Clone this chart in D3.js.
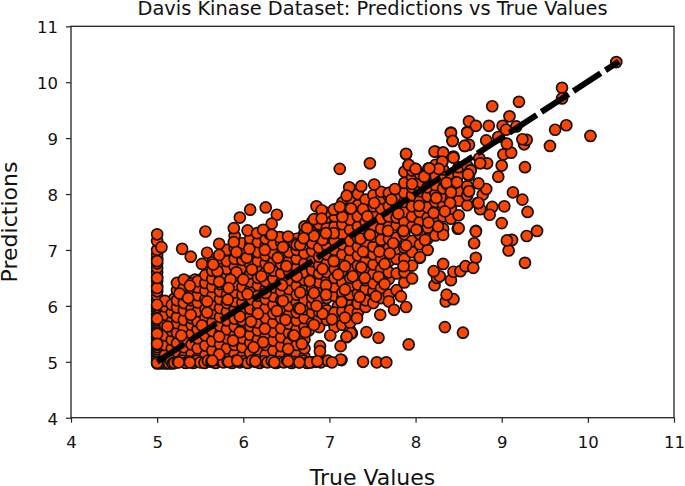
<!DOCTYPE html>
<html><head><meta charset="utf-8">
<script src="https://d3js.org/d3.v7.min.js"></script>
<style>html,body{margin:0;padding:0;background:#fff}svg{display:block}text{font-family:"DejaVu Sans";fill:#111}</style>
</head><body><div id="chart"></div>
<script>
const chartTitle = "Davis Kinase Dataset: Predictions vs True Values";
const xLabel = "True Values";
const yLabel = "Predictions";
const tickValues = [4,5,6,7,8,9,10,11];
const lineTrue = [5,10.36];
const linePred = [5,10.37];

// Buried cloud, one row per approximate true value: [true, predictions...]
const cloudColumns = [
[5.09,5.12,5.3,5.47,5.66,5.84,5.99,6.09],
[5.17,5.07,5.24,5.39,5.55,5.72,5.88,6.02],
[5.23,5.15,5.33,5.52,5.69,5.8,5.97,6.1,6.28,6.41],
[5.31,5.09,5.26,5.41,5.6,5.75,5.92,6.05,6.2,6.33,6.47],
[5.4,5.14,5.31,5.5,5.66,5.78,5.95,6.1,6.25,6.4],
[5.47,5.07,5.24,5.42,5.58,5.72,5.9,6.06,6.19,6.33,6.44],
[5.56,5.12,5.29,5.47,5.62,5.79,5.94,6.12,6.27,6.41,6.55],
[5.64,5.08,5.2,5.37,5.55,5.7,5.87,6.02,6.18,6.34,6.48,6.63,6.78],
[5.73,5.16,5.31,5.5,5.64,5.8,5.96,6.12,6.26,6.39,6.54,6.72,6.85],
[5.81,5.09,5.24,5.42,5.58,5.74,5.9,6.05,6.2,6.36,6.52,6.66,6.8,7.0],
[5.9,5.14,5.3,5.47,5.63,5.77,5.93,6.08,6.24,6.38,6.54,6.7,6.84,7.03,7.25],
[5.99,5.1,5.26,5.42,5.6,5.74,5.9,6.06,6.2,6.34,6.52,6.68,6.82,6.94,7.12],
[6.08,5.16,5.34,5.48,5.64,5.8,5.95,6.12,6.28,6.43,6.58,6.74,6.9,7.1,7.2],
[6.17,5.08,5.22,5.4,5.56,5.7,5.92,6.04,6.18,6.37,6.5,6.66,6.8,6.96,7.14],
[6.26,5.13,5.3,5.46,5.62,5.78,5.96,6.12,6.3,6.44,6.6,6.76,6.9,7.08,7.2],
[6.35,5.06,5.2,5.38,5.54,5.7,5.86,6.02,6.17,6.33,6.48,6.63,6.79,6.94,7.1],
[6.44,5.12,5.28,5.44,5.6,5.78,5.94,6.1,6.26,6.42,6.58,6.75,6.92,7.14,7.22],
[6.53,5.08,5.35,5.52,5.68,5.84,6.0,6.16,6.3,6.46,6.62,6.8,6.96,7.16],
[6.62,5.14,5.3,5.58,5.74,5.88,6.06,6.2,6.36,6.52,6.68,6.84,7.0,7.2],
[6.71,5.09,5.24,5.4,5.62,5.78,5.94,6.1,6.3,6.46,6.6,6.76,6.94,7.1,7.3,7.42],
[6.8,5.7,5.88,6.03,6.15,6.3,6.5,6.64,6.8,6.98,7.12,7.35,7.5],
[6.88,5.62,5.78,5.9,6.12,6.28,6.42,6.58,6.72,6.88,7.04,7.24,7.46],
[6.97,5.75,5.92,6.14,6.3,6.46,6.6,6.76,6.92,7.08,7.22,7.4,7.58],
[7.06,5.62,5.88,6.18,6.34,6.5,6.66,6.84,7.0,7.16,7.42,7.6,7.72],
[7.15,5.66,5.9,6.14,6.24,6.42,6.6,6.76,6.92,7.1,7.28,7.46,7.66,7.85],
[7.24,5.56,5.7,5.92,6.2,6.36,6.5,6.68,6.84,7.0,7.16,7.36,7.54,7.76,7.92],
[7.33,5.88,6.04,6.22,6.38,6.56,6.72,6.9,7.06,7.22,7.42,7.6,7.8,8.0],
[7.42,5.98,6.1,6.3,6.46,6.62,6.8,6.96,7.12,7.3,7.5,7.68,7.9],
[7.51,6.05,6.26,6.4,6.58,6.74,6.92,7.06,7.24,7.44,7.62,7.78,7.98],
[7.6,6.14,6.32,6.5,6.66,6.84,7.02,7.18,7.38,7.56,7.74,7.92,8.04],
[7.69,6.2,6.48,6.6,6.8,7.04,7.2,7.42,7.6,7.78,7.96,8.02],
[7.78,6.28,6.58,6.84,7.02,7.22,7.44,7.58,7.76,7.94],
[7.87,6.42,6.6,6.84,7.04,7.28,7.5,7.68,7.86,8.02,8.2,8.4],
[7.96,6.72,6.96,7.16,7.42,7.6,7.78,7.98,8.12,8.3,8.42],
[8.05,6.86,7.1,7.28,7.5,7.68,7.88,8.05,8.22,8.36],
[8.14,7.0,7.2,7.4,7.58,7.76,7.96,8.12,8.28,8.4],
[8.23,7.26,7.52,7.7,7.86,8.0,8.16,8.32,8.52],
[8.32,7.38,7.6,7.82,7.96,8.1,8.26,8.44],
[8.41,7.56,7.74,7.92,8.12,8.3],
[8.5,7.62,7.88,8.06,8.34,8.48],
[8.6,7.8,7.98,8.14,8.5]
];

// Second buried layer, filling between the rows above
const fillerColumns = [
[5.13,5.2,5.37,5.56,5.75,5.93],
[5.2,5.16,5.32,5.47,5.63,5.8,5.95,6.13],
[5.27,5.05,5.22,5.42,5.6,5.77,5.9,6.04,6.18,6.37],
[5.35,5.18,5.34,5.54,5.68,5.86,6.0,6.14,6.28,6.44],
[5.44,5.06,5.22,5.39,5.6,5.84,6.02,6.17,6.31,6.47],
[5.52,5.17,5.36,5.54,5.7,5.87,6.0,6.15,6.3,6.48],
[5.6,5.06,5.22,5.41,5.58,5.76,5.9,6.07,6.22,6.38,6.52],
[5.68,5.13,5.28,5.46,5.6,5.78,5.92,6.08,6.25,6.41,6.58],
[5.77,5.06,5.23,5.39,5.57,5.72,5.86,6.03,6.18,6.33,6.46,6.6,6.78],
[5.86,5.18,5.35,5.52,5.68,5.84,6.0,6.14,6.28,6.45,6.6,6.76,6.92],
[5.95,5.05,5.22,5.37,5.55,5.7,5.85,6.01,6.15,6.3,6.46,6.62,6.77,6.9,7.06],
[6.04,5.13,5.3,5.46,5.66,5.84,6.0,6.16,6.33,6.5,6.64,6.79,6.98],
[6.13,5.05,5.2,5.38,5.56,5.72,5.87,6.08,6.24,6.4,6.55,6.7,6.84,7.02],
[6.22,5.16,5.33,5.5,5.68,5.86,6.02,6.15,6.37,6.48,6.68,6.84,7.02],
[6.31,5.07,5.24,5.42,5.58,5.74,5.92,6.07,6.24,6.4,6.56,6.72,6.86,7.04],
[6.4,5.14,5.31,5.48,5.66,5.82,5.98,6.14,6.3,6.52,6.68,6.84,7.02],
[6.49,5.1,5.26,5.4,5.56,5.72,5.9,6.04,6.2,6.36,6.52,6.66,6.84,7.06],
[6.58,5.18,5.36,5.54,5.68,5.96,6.12,6.27,6.44,6.6,6.76,6.92,7.1],
[6.67,5.08,5.2,5.46,5.68,5.84,6.02,6.16,6.24,6.4,6.56,6.72,6.88,7.06,7.22],
[6.76,5.56,5.72,5.9,6.0,6.2,6.38,6.54,6.7,6.86,7.02,7.2],
[6.84,5.82,5.96,6.08,6.22,6.36,6.56,6.76,6.96,7.08,7.3],
[6.93,6.0,6.2,6.36,6.54,6.7,6.84,7.0,7.16,7.32,7.5],
[7.02,5.82,6.24,6.42,6.58,6.72,6.92,7.08,7.28,7.5],
[7.1,5.78,6.0,6.3,6.48,6.66,6.84,7.02,7.2,7.36,7.54],
[7.2,5.88,6.06,6.3,6.46,6.66,6.82,7.0,7.18,7.44,7.6],
[7.29,5.8,5.96,6.3,6.44,6.62,6.78,6.96,7.1,7.3,7.5,7.68,7.85],
[7.38,6.08,6.3,6.46,6.64,6.84,7.0,7.18,7.36,7.54,7.72],
[7.47,6.2,6.38,6.54,6.7,6.88,7.04,7.2,7.38,7.56,7.74,7.9],
[7.56,6.3,6.46,6.62,6.8,6.98,7.14,7.32,7.5,7.68,7.86]
];

// Points pinned to the floor of the predictions (about 5)
const floorTrue = [5.03,5.05,5.07,5.1,5.12,5.14,5.16,5.18,5.2,5.24,5.29,5.33,5.37,5.42,5.46,5.5,5.55,5.59,5.63,5.68,5.73,5.77,5.82,5.87,5.91,5.96,6.0,6.05,6.1,6.14,6.19,6.24,6.28,6.33,6.38,6.42,6.47,6.51,6.56,6.6,6.65,6.7,6.74,6.79,6.84,6.9,6.98];
const floorPred = [4.98,4.97,5.01,4.97,4.98,4.97,5.02,4.97,4.98,5.0,5.02,4.98,5.01,4.98,5.02,4.99,4.98,5.02,5.0,4.98,5.02,4.99,5.0,4.98,5.02,4.99,5.01,4.98,5.02,5.0,4.98,5.01,4.99,5.02,4.98,5.0,4.99,5.02,4.98,5.0,4.99,5.02,4.98,4.99,5.0,4.99,5.02];

// Points pinned to the lowest true value (about 5)
const wallTrue = [5,5,5,5,5,5,5,5,5,5,5,5,5,5,5,5,5,5,5,5,5,5,5,5,5,5,5,5,5,5,5,5,5,5,5,5,5,5,5,5];
const wallPred = [4.97,5.02,5.06,5.1,5.14,5.18,5.22,5.26,5.3,5.34,5.38,5.42,5.45,5.5,5.54,5.58,5.62,5.66,5.7,5.74,5.78,5.82,5.86,5.9,5.94,5.98,6.02,6.1,6.18,6.26,6.36,6.44,6.52,6.6,6.68,6.76,6.84,6.92,7.0,7.16];

// Sparse points at the edge of the cloud
const edgeTrue = [7.26,7.2,7.13,7.25,7.43,7.57,7.14,7.39,7.55,7.66,7.92,8.34,8.55,8.35,8.44,8.36,8.22,8.41,8.25,8.28,8.21,8.32,8.44,8.52,8.58,8.7,8.67,9.27,9.08,9.12,9.06,9.29,9.41,8.68,8.7,8.49,9.0,9.03,8.89,8.86,8.75,8.72,8.78,8.82,8.73,8.62,9.3,9.24,9.13,8.96,9.27,9.0,9.02,9.11,9.06,9.26,9.29,9.24,8.96,8.82,8.62,8.57,8.43,8.41,8.6,8.62,8.7,8.85,9.01,9.05,9.17,9.09,8.89,9.2,9.56,9.62,9.75,10.03,9.7,9.7,10.33,8.23,8.32,8.44,8.31,8.74,8.83,8.75,8.64,8.62,8.15,8.27,8.0,8.11,8.36,8.47,8.41,7.89,7.92];
const edgePred = [5.51,5.44,5.28,5.51,5.53,5.43,5.03,5.0,4.99,4.99,5.31,5.62,5.52,6.08,6.12,6.2,6.37,6.46,6.5,6.53,6.62,6.75,6.61,6.62,6.71,6.86,6.68,6.77,6.99,7.18,7.17,7.25,7.34,7.12,7.34,7.38,7.48,7.78,7.77,7.63,7.73,7.84,7.99,8.09,8.19,8.05,7.68,7.9,8.03,8.31,8.48,8.51,8.71,8.74,8.9,8.89,8.97,8.98,9.02,8.96,8.88,8.86,8.95,9.1,9.11,9.3,9.22,9.22,9.22,9.15,9.21,9.39,9.57,9.65,8.86,9.15,9.23,9.04,9.9,9.71,10.36,8.76,8.74,8.67,8.58,8.64,8.55,8.55,8.43,8.33,8.46,8.45,8.45,8.3,8.18,8.21,8.04,8.71,8.52];

// Top layer of the cloud, read circle by circle
const topTrue = [5.56,5.89,6.05,6.16,6.31,6.42,6.59,5,5.05,5.29,5.39,5.58,5.72,5.72,5.89,5.92,6.04,6.07,6.25,6.46,6.4,6.62,5.52,5.7,5.65,5.92,6.1,6.3,6.5,6.21,6,5.85,5.38,5.26,5.36,5.58,5.82,6.05,5.83,5.72,6.45,6.26,6.46,6.62,6.64,6.39,6.17,5.96,5.39,5.58,6.09,6.49,6.25,5.96,5.52,5.28,5.12,5.72,5,5,5,5,5,5,5,5.88,6.23,6.58,6.12,6.52,5.72,5.38,5.25,5.83,5.64,5.93,6.14,6.36,6.52,5,
6.82,6.66,6.92,7.05,7.36,7.46,7.68,7.85,8.02,8.11,7.89,7.74,7.58,7.39,7.7,8.05,7.86,7.64,7.37,7.18,7.05,6.92,7.1,7.27,7.41,7.57,7.96,7.64,6.77,6.96,6.66,6.82,6.96,7.18,7.35,7.54,7.83,7.69,7.14,7.89,7.75,7.59,7.32,7.18,7.03,6.92,6.85,6.66,6.82,6.72,7.01,7.2,6.89,6.89,6.68,6.59,7.13,7.03,6.77,6.65,6.86,
7.12,7.47,7.89,7.23,7.37,7.52,7.2,7.92,8,8.22,8.32,8.44,8.31,8.27,8.1,7.96,7.76,8.36,8.48,8.41,8.62,8.24,8.4,8.34,8.21,8.04,7.72,7.52,7.39,7.25,7.15,6.96,6.85,6.82,7.8,7.44,8.01,7.86,7.47,6.82,8.32,8.5,8.26,8.15,8.64,8.61,8.7,8.73,8.57,8.41,8.6,8.43,8.16,
5.96,6.08,6.26,6.39,6.33,6.23,6.33,6.52,6.91,7.05,7.12,6.91,6.74,6.96,6.7];
const topPred = [7.33,7.39,7.35,7.3,7.28,7.23,7.12,7.28,7.05,7.02,6.88,6.95,7.11,6.91,7.14,6.96,6.86,7.02,7,7.05,6.86,7.09,6.75,6.62,6.74,6.6,6.65,6.68,6.71,6.53,6.47,6.47,6.36,6.22,6.14,6.08,6.11,6.21,6.32,6.43,6.37,6.23,6.09,6.53,5.96,5.91,5.86,5.81,5.84,5.88,5.72,5.75,5.59,5.53,5.65,5.47,5.63,5.45,5.5,5.77,6.02,6.32,6.5,6.8,5.32,5.38,5.35,5.47,5.26,5.23,5.13,4.99,4.99,5,5.02,5.02,5.01,4.99,5.01,4.98,
7.27,7.09,7.18,7.3,7.2,7.27,7.34,7.34,7.36,7.18,7.08,7.12,6.97,6.97,6.94,6.87,6.71,6.75,6.69,6.71,6.8,6.66,6.56,6.53,6.5,6.52,6.49,6.39,6.44,6.37,6.24,6.23,6.2,6.29,6.16,6.17,6.17,6.08,6.07,5.98,5.93,5.84,5.78,5.79,5.76,5.86,6,5.95,5.66,5.53,5.47,5.45,5.28,5.19,5.32,5.47,5.04,4.99,4.99,4.99,5.01,
8.45,8.55,8.72,8.12,8.14,8.17,7.97,8.52,8.45,8.76,8.74,8.65,8.58,8.45,8.31,8.18,8.09,8.2,8.21,8.03,8.05,7.93,7.84,7.69,7.66,7.79,7.9,7.84,7.73,7.74,7.59,7.67,7.78,7.55,7.65,7.6,7.36,7.34,7.27,7.25,7.27,7.39,7.42,7.49,8.42,8.35,7.33,7.84,8.86,9.09,9.1,8.95,8.46,
7.58,7.72,7.76,7.63,7.47,7.36,7.27,7.24,7.71,7.72,7.77,7.56,7.39,7.3,7.21];

const W = 685, H = 486;
const margin = {left:71, right:11, top:26.3, bottom:68.3};
const x = d3.scaleLinear().domain([4,11]).range([margin.left, W-margin.right]);
const y = d3.scaleLinear().domain([4,11]).range([H-margin.bottom, margin.top]);

const svg = d3.select("#chart").append("svg").attr("width",W).attr("height",H);

const expand = cols => cols.flatMap(c => c.slice(1).map(p => [c[0],p]));
const zipPts = (a,b) => a.map((v,i)=>[v,b[i]]);
const layers = [zipPts(wallTrue,wallPred), expand(fillerColumns), expand(cloudColumns), zipPts(floorTrue,floorPred), zipPts(edgeTrue,edgePred), zipPts(topTrue,topPred)];
svg.append("g").selectAll("circle").data(layers.flat()).join("circle")
  .attr("cx",d=>x(d[0])).attr("cy",d=>y(d[1])).attr("r",5.5)
  .attr("fill","#ff4500").attr("stroke","#111").attr("stroke-width",1.7);

svg.append("path").datum(zipPts(lineTrue,linePred))
  .attr("d",d3.line().x(d=>x(d[0])).y(d=>y(d[1])))
  .attr("fill","none").attr("stroke","#000").attr("stroke-width",6).attr("stroke-dasharray","32.5 5.7");

const ax = svg.append("g").attr("transform",`translate(0,${H-margin.bottom})`).call(d3.axisBottom(x).tickValues(tickValues).tickFormat(d3.format("d")).tickSize(5).tickPadding(14));
const ay = svg.append("g").attr("transform",`translate(${margin.left},0)`).call(d3.axisLeft(y).tickValues(tickValues).tickFormat(d3.format("d")).tickSize(5).tickPadding(8));
[ax,ay].forEach(a=>{a.selectAll("text").style("font-size","16.5px").style("font-family",'"DejaVu Sans"');a.selectAll("line").attr("stroke","#222").attr("stroke-width",1.2);a.select(".domain").remove();});
ay.selectAll("text").attr("dy","0.39em");

svg.append("rect").attr("x",margin.left).attr("y",margin.top).attr("width",W-margin.left-margin.right).attr("height",H-margin.top-margin.bottom)
  .attr("fill","none").attr("stroke","#222").attr("stroke-width",1.3);

svg.append("text").attr("x",372.5).attr("y",15).attr("text-anchor","middle").style("font-size","19.4px").text(chartTitle);
svg.append("text").attr("x",372.5).attr("y",484.5).attr("text-anchor","middle").style("font-size","22px").text(xLabel);
svg.append("text").attr("transform","translate(17,222) rotate(-90)").attr("text-anchor","middle").style("font-size","22px").text(yLabel);
</script></body></html>
